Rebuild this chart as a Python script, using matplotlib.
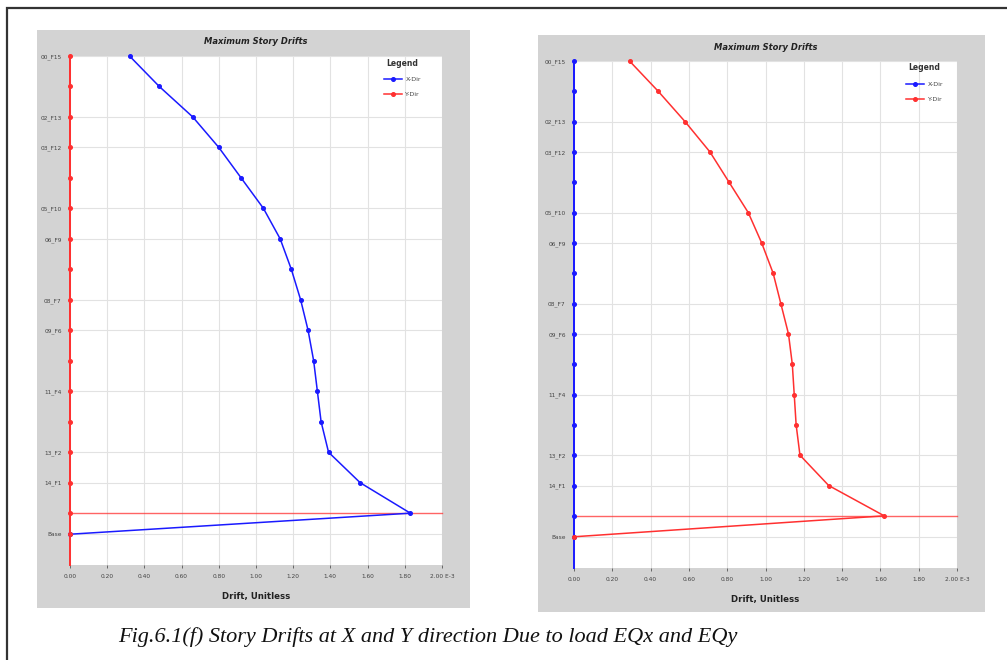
import matplotlib.pyplot as plt
from matplotlib.patches import Rectangle

# story levels: F15..F1, intermediate level, Base
levels = [15, 14, 13, 12, 11, 10, 9, 8, 7, 6, 5, 4, 3, 2, 1, 0, -0.69]
tick_levels = [15, 13, 12, 10, 9, 7, 6, 4, 2, 1, -0.69]
tick_names = ['00_F15', '02_F13', '03_F12', '05_F10', '06_F9', '08_F7', '09_F6',
              '11_F4', '13_F2', '14_F1', 'Base']
x_ticks = [0.0, 0.2, 0.4, 0.6, 0.8, 1.0, 1.2, 1.4, 1.6, 1.8, 2.0]
x_tick_labels = ['0.00', '0.20', '0.40', '0.60', '0.80', '1.00', '1.20', '1.40',
                 '1.60', '1.80', '2.00 E-3']

# drift (E-3) under EQx
eqx_xdir = [0.32, 0.48, 0.66, 0.80, 0.92, 1.04, 1.13, 1.19, 1.24, 1.28, 1.31, 1.33,
            1.35, 1.39, 1.56, 1.83, 0.0]
eqx_ydir = [0.0] * 17
# drift (E-3) under EQy
eqy_xdir = [0.0] * 17
eqy_ydir = [0.29, 0.44, 0.58, 0.71, 0.81, 0.91, 0.98, 1.04, 1.08, 1.12, 1.14, 1.15,
            1.16, 1.18, 1.33, 1.62, 0.0]

W, H = 1007, 660
fig = plt.figure(figsize=(W / 100, H / 100), dpi=100)

def px_rect(x0, y0, x1, y1):
    return [x0 / W, 1 - y1 / H, (x1 - x0) / W, (y1 - y0) / H]

# page frame
fig.patches.append(Rectangle((7 / W, -0.1), 1.2, 1 - 8 / H + 0.1, transform=fig.transFigure,
                             fill=False, edgecolor='#333333', linewidth=1.6, zorder=-2))

GRAY = '#d3d3d3'
BLUE = '#1a1aff'
RED = '#ff3030'


def drift_panel(gray_box, plot_box, xdir, ydir, title_y, ymin, leg_anchor):
    gx0, gy0, gx1, gy1 = gray_box
    fig.patches.append(Rectangle((gx0 / W, 1 - gy1 / H), (gx1 - gx0) / W, (gy1 - gy0) / H,
                                 transform=fig.transFigure, facecolor=GRAY,
                                 edgecolor='none', zorder=-1))
    ax = fig.add_axes(px_rect(*plot_box))
    ax.set_facecolor('white')
    for s in ax.spines.values():
        s.set_visible(False)
    ax.set_xlim(0, 2.0)
    ax.set_ylim(ymin, 15)
    ax.set_xticks(x_ticks)
    ax.set_xticklabels(x_tick_labels, fontsize=4.2, color='#444444')
    ax.set_yticks(tick_levels)
    ax.set_yticklabels(tick_names, fontsize=4.2, color='#444444')
    ax.tick_params(axis='x', length=2.5, width=0.6, color='#555555', pad=4)
    ax.tick_params(axis='y', length=0, pad=6)
    ax.grid(True, color='#e2e2e2', linewidth=0.8)
    ax.set_axisbelow(True)

    # reference line at the top of the base level
    ax.plot([0, 2.0], [0, 0], color=RED, linewidth=1.0, alpha=0.75, clip_on=False)
    # zero-drift direction drawn down to the axis
    zero_color = RED if max(ydir) == 0 else BLUE
    ax.plot([0, 0], [ymin, 15], color=zero_color, linewidth=1.4, clip_on=False, zorder=3)

    ax.plot(xdir, levels, color=BLUE, linewidth=1.1, marker='o', markersize=2.6,
            label='X-Dir', clip_on=False, zorder=4)
    ax.plot(ydir, levels, color=RED, linewidth=1.1, marker='o', markersize=2.6,
            label='Y-Dir', clip_on=False, zorder=4)

    leg = ax.legend(title='Legend', loc='upper right', fontsize=4.5, title_fontsize=5.5,
                    frameon=False, handlelength=3.0, handletextpad=0.5,
                    labelspacing=1.5, borderaxespad=0.0, bbox_to_anchor=leg_anchor)
    leg.get_title().set_fontweight('bold')
    leg.get_title().set_color('#333333')
    for t in leg.get_texts():
        t.set_color('#444444')

    fig.text((plot_box[0] + plot_box[2]) / 2 / W, 1 - title_y / H, 'Maximum Story Drifts',
             ha='center', va='center', fontsize=6, fontweight='bold', style='italic',
             color='#222222')
    ax.set_xlabel('Drift, Unitless', fontsize=6.2, fontweight='bold', color='#222222',
                  labelpad=9)
    return ax


drift_panel((37, 30, 470, 608), (70, 56, 442, 565), eqx_xdir, eqx_ydir, 42, -1.7,
            (0.95, 1.0))
drift_panel((538, 35, 985, 612), (574, 61, 957, 568), eqy_xdir, eqy_ydir, 47, -1.72,
            (0.97, 1.0))

fig.text(118 / W, 1 - 637 / H,
         'Fig.6.1(f) Story Drifts at X and Y direction Due to load EQx and EQy',
         ha='left', va='center', fontsize=16, style='italic',
         family='Liberation Serif', color='#111111')

fig.savefig('out.png', dpi=100)
